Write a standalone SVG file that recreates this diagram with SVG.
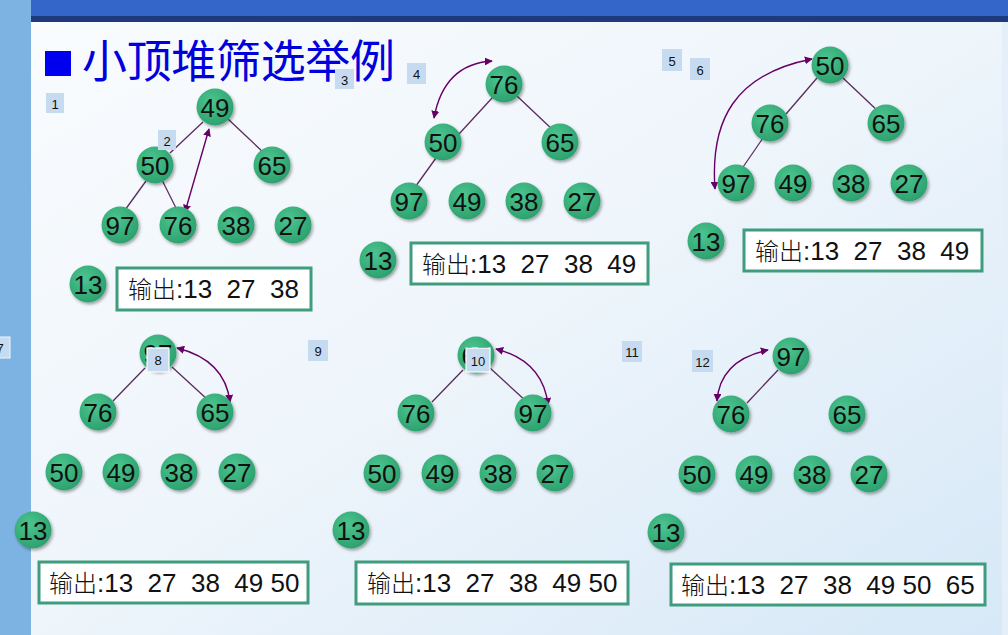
<svg xmlns="http://www.w3.org/2000/svg" width="1008" height="635" viewBox="0 0 1008 635">
<defs>
<linearGradient id="bg" x1="0" y1="0" x2="1" y2="1">
<stop offset="0" stop-color="#fafcfe"/>
<stop offset="0.5" stop-color="#eef5fb"/>
<stop offset="1" stop-color="#d6e8f7"/>
</linearGradient>
<radialGradient id="ng" cx="0.4" cy="0.35" r="0.7">
<stop offset="0" stop-color="#4cc590"/>
<stop offset="1" stop-color="#2a9f6c"/>
</radialGradient>
<filter id="sh" x="-30%" y="-30%" width="160%" height="160%">
<feDropShadow dx="1.5" dy="2" stdDeviation="1.5" flood-color="#000" flood-opacity="0.35"/>
</filter>
<marker id="ah" viewBox="0 0 10 10" refX="9" refY="5" markerWidth="8" markerHeight="8" orient="auto-start-reverse" markerUnits="userSpaceOnUse">
<path d="M0,0 L10,5 L0,10 z" fill="#660066"/>
</marker>
</defs>
<style>
.node circle{fill:url(#ng);filter:url(#sh);}
.node text{font-family:"Liberation Sans",Arial,sans-serif;font-size:26px;fill:#111;text-anchor:middle;dominant-baseline:central;}
.edge{stroke:#5a2a5e;stroke-width:1.3;fill:none;}
.swap{stroke:#660066;stroke-width:1.4;fill:none;marker-start:url(#ah);marker-end:url(#ah);}
.lbl rect{fill:#c6dbf0;}
.lbl text{font-family:"Liberation Sans",Arial,sans-serif;font-size:13px;fill:#111;text-anchor:middle;dominant-baseline:central;}
.out rect{fill:#fff;stroke:#3f9c7c;stroke-width:3;}
.out text{font-family:"Liberation Sans","Noto Sans CJK SC",sans-serif;font-size:26px;fill:#111;white-space:pre;}
.out .cn{font-family:"Noto Sans CJK SC",sans-serif;font-size:24px;font-weight:300;}
</style>
<rect x="0" y="0" width="1008" height="635" fill="url(#bg)"/>
<rect x="0" y="0" width="31" height="635" fill="#7db3e2"/>
<rect x="31" y="0" width="977" height="17" fill="#3366c8"/>
<rect x="31" y="16" width="977" height="6" fill="#1e3a7c"/>
<rect x="1002" y="22" width="6" height="613" fill="#e4effa"/>

<g id="title">
<rect x="45" y="51" width="26" height="25" fill="#0000ee"/>
<text x="82" y="78" font-family="'Noto Sans CJK SC',sans-serif" font-size="45" fill="#0000dd" textLength="313">小顶堆筛选举例</text>
</g>

<g id="connectors">
<line class="edge" x1="203" y1="122" x2="170" y2="153"/>
<line class="edge" x1="228" y1="119" x2="264" y2="153"/>
<line class="edge" x1="146" y1="181" x2="125" y2="210"/>
<line class="edge" x1="162" y1="180" x2="176" y2="208"/>
<line class="swap" x1="185" y1="212" x2="209" y2="129"/>

<line class="edge" x1="493" y1="97" x2="459" y2="134"/>
<line class="edge" x1="517" y1="96" x2="554" y2="131"/>
<line class="edge" x1="436" y1="158" x2="413" y2="190"/>
<path class="swap" d="M434,118 Q444,64 492,61"/>

<line class="edge" x1="817" y1="78" x2="786" y2="114"/>
<line class="edge" x1="843" y1="78" x2="880" y2="113"/>
<line class="edge" x1="763" y1="138" x2="741" y2="170"/>
<path class="swap" d="M715,189 C710,120 735,74 812,59"/>

<line class="edge" x1="145" y1="368" x2="113" y2="401"/>
<line class="edge" x1="172" y1="367" x2="208" y2="400"/>
<path class="swap" d="M177,348 Q225,360 230,402"/>

<line class="edge" x1="463" y1="370" x2="432" y2="402"/>
<line class="edge" x1="490" y1="368" x2="527" y2="402"/>
<path class="swap" d="M496,349 Q543,361 548,405"/>

<line class="edge" x1="778" y1="370" x2="747" y2="403"/>
<path class="swap" d="M717,401 Q720,360 768,350"/>
</g>

<!-- Panel 1 -->
<g id="p1-49" class="node"><circle cx="215" cy="107" r="18.5"/><text x="215" y="108">49</text></g>
<g id="p1-50" class="node"><circle cx="155" cy="165" r="18.5"/><text x="155" y="166">50</text></g>
<g id="p1-65" class="node"><circle cx="272" cy="165" r="18.5"/><text x="272" y="166">65</text></g>
<g id="p1-97" class="node"><circle cx="120" cy="225" r="18.5"/><text x="120" y="226">97</text></g>
<g id="p1-76" class="node"><circle cx="178" cy="225" r="18.5"/><text x="178" y="226">76</text></g>
<g id="p1-38" class="node"><circle cx="236" cy="225" r="18.5"/><text x="236" y="226">38</text></g>
<g id="p1-27" class="node"><circle cx="293" cy="225" r="18.5"/><text x="293" y="226">27</text></g>
<g id="p1-13" class="node"><circle cx="88" cy="284" r="18.5"/><text x="88" y="285">13</text></g>
<g id="p1-out" class="out"><rect x="117" y="268" width="194" height="42"/><text x="128" y="298"><tspan class="cn">输出</tspan>:13  27  38</text></g>

<!-- Panel 2 -->
<g id="p2-76" class="node"><circle cx="504" cy="84" r="18.5"/><text x="504" y="85">76</text></g>
<g id="p2-50" class="node"><circle cx="443" cy="142" r="18.5"/><text x="443" y="143">50</text></g>
<g id="p2-65" class="node"><circle cx="560" cy="142" r="18.5"/><text x="560" y="143">65</text></g>
<g id="p2-97" class="node"><circle cx="409" cy="201" r="18.5"/><text x="409" y="202">97</text></g>
<g id="p2-49" class="node"><circle cx="467" cy="201" r="18.5"/><text x="467" y="202">49</text></g>
<g id="p2-38" class="node"><circle cx="524" cy="201" r="18.5"/><text x="524" y="202">38</text></g>
<g id="p2-27" class="node"><circle cx="582" cy="201" r="18.5"/><text x="582" y="202">27</text></g>
<g id="p2-13" class="node"><circle cx="378" cy="260" r="18.5"/><text x="378" y="261">13</text></g>
<g id="p2-out" class="out"><rect x="411" y="243" width="237" height="41"/><text x="422" y="273"><tspan class="cn">输出</tspan>:13  27  38  49</text></g>

<!-- Panel 3 -->
<g id="p3-50" class="node"><circle cx="830" cy="65" r="18.5"/><text x="830" y="66">50</text></g>
<g id="p3-76" class="node"><circle cx="770" cy="123" r="18.5"/><text x="770" y="124">76</text></g>
<g id="p3-65" class="node"><circle cx="886" cy="123" r="18.5"/><text x="886" y="124">65</text></g>
<g id="p3-97" class="node"><circle cx="736" cy="183" r="18.5"/><text x="736" y="184">97</text></g>
<g id="p3-49" class="node"><circle cx="793" cy="183" r="18.5"/><text x="793" y="184">49</text></g>
<g id="p3-38" class="node"><circle cx="851" cy="183" r="18.5"/><text x="851" y="184">38</text></g>
<g id="p3-27" class="node"><circle cx="909" cy="183" r="18.5"/><text x="909" y="184">27</text></g>
<g id="p3-13" class="node"><circle cx="706" cy="241" r="18.5"/><text x="706" y="242">13</text></g>
<g id="p3-out" class="out"><rect x="744" y="230" width="238" height="41"/><text x="755" y="260"><tspan class="cn">输出</tspan>:13  27  38  49</text></g>

<!-- Panel 4 -->
<g id="p4-97" class="node"><circle cx="158" cy="353" r="18.5"/><text x="158" y="354">97</text></g>
<g id="p4-76" class="node"><circle cx="98" cy="412" r="18.5"/><text x="98" y="413">76</text></g>
<g id="p4-65" class="node"><circle cx="215" cy="412" r="18.5"/><text x="215" y="413">65</text></g>
<g id="p4-50" class="node"><circle cx="64" cy="472" r="18.5"/><text x="64" y="473">50</text></g>
<g id="p4-49" class="node"><circle cx="121" cy="472" r="18.5"/><text x="121" y="473">49</text></g>
<g id="p4-38" class="node"><circle cx="179" cy="472" r="18.5"/><text x="179" y="473">38</text></g>
<g id="p4-27" class="node"><circle cx="237" cy="472" r="18.5"/><text x="237" y="473">27</text></g>
<g id="p4-13" class="node"><circle cx="33" cy="530" r="18.5"/><text x="33" y="531">13</text></g>
<g id="p4-out" class="out"><rect x="39" y="562" width="269" height="41"/><text x="49" y="592"><tspan class="cn">输出</tspan>:13  27  38  49 50</text></g>

<!-- Panel 5 -->
<g id="p5-65" class="node"><circle cx="476" cy="355" r="18.5"/><text x="476" y="356">65</text></g>
<g id="p5-76" class="node"><circle cx="416" cy="413" r="18.5"/><text x="416" y="414">76</text></g>
<g id="p5-97" class="node"><circle cx="533" cy="413" r="18.5"/><text x="533" y="414">97</text></g>
<g id="p5-50" class="node"><circle cx="382" cy="473" r="18.5"/><text x="382" y="474">50</text></g>
<g id="p5-49" class="node"><circle cx="440" cy="473" r="18.5"/><text x="440" y="474">49</text></g>
<g id="p5-38" class="node"><circle cx="498" cy="473" r="18.5"/><text x="498" y="474">38</text></g>
<g id="p5-27" class="node"><circle cx="555" cy="473" r="18.5"/><text x="555" y="474">27</text></g>
<g id="p5-13" class="node"><circle cx="351" cy="530" r="18.5"/><text x="351" y="531">13</text></g>
<g id="p5-out" class="out"><rect x="356" y="562" width="272" height="42"/><text x="367" y="592"><tspan class="cn">输出</tspan>:13  27  38  49 50</text></g>

<!-- Panel 6 -->
<g id="p6-97" class="node"><circle cx="791" cy="356" r="18.5"/><text x="791" y="357">97</text></g>
<g id="p6-76" class="node"><circle cx="731" cy="414" r="18.5"/><text x="731" y="415">76</text></g>
<g id="p6-65" class="node"><circle cx="847" cy="414" r="18.5"/><text x="847" y="415">65</text></g>
<g id="p6-50" class="node"><circle cx="697" cy="474" r="18.5"/><text x="697" y="475">50</text></g>
<g id="p6-49" class="node"><circle cx="754" cy="474" r="18.5"/><text x="754" y="475">49</text></g>
<g id="p6-38" class="node"><circle cx="812" cy="474" r="18.5"/><text x="812" y="475">38</text></g>
<g id="p6-27" class="node"><circle cx="869" cy="474" r="18.5"/><text x="869" y="475">27</text></g>
<g id="p6-13" class="node"><circle cx="666" cy="532" r="18.5"/><text x="666" y="533">13</text></g>
<g id="p6-out" class="out"><rect x="671" y="564" width="314" height="41"/><text x="681" y="594"><tspan class="cn">输出</tspan>:13  27  38  49 50  65</text></g>

<!-- step labels -->
<g id="lbl1" class="lbl"><rect x="46" y="93" width="18" height="20"/><text x="55" y="104">1</text></g>
<g id="lbl2" class="lbl"><rect x="158" y="130" width="18" height="20"/><text x="167" y="141">2</text></g>
<g id="lbl3" class="lbl"><rect x="335" y="69" width="19" height="20"/><text x="344.5" y="80">3</text></g>
<g id="lbl4" class="lbl"><rect x="407" y="63" width="19" height="21"/><text x="416.5" y="74">4</text></g>
<g id="lbl5" class="lbl"><rect x="662" y="49" width="20" height="22"/><text x="672" y="61">5</text></g>
<g id="lbl6" class="lbl"><rect x="690" y="58" width="20" height="22"/><text x="700" y="70">6</text></g>
<g id="lbl7" class="lbl"><rect x="-10" y="337" width="20" height="21" stroke="#eef5fb" stroke-width="1"/><text x="0" y="348">7</text></g>
<g id="lbl8" class="lbl"><rect x="147" y="348" width="22" height="24" stroke="#fff" stroke-width="1.2"/><text x="158" y="360">8</text></g>
<g id="lbl9" class="lbl"><rect x="308" y="340" width="20" height="21"/><text x="318" y="351">9</text></g>
<g id="lbl10" class="lbl"><rect x="466" y="348" width="24" height="24" stroke="#fff" stroke-width="1.2"/><text x="478" y="361">10</text></g>
<g id="lbl11" class="lbl"><rect x="622" y="341" width="20" height="21"/><text x="632" y="352">11</text></g>
<g id="lbl12" class="lbl"><rect x="692" y="350" width="21" height="22"/><text x="702.5" y="362">12</text></g>
</svg>
